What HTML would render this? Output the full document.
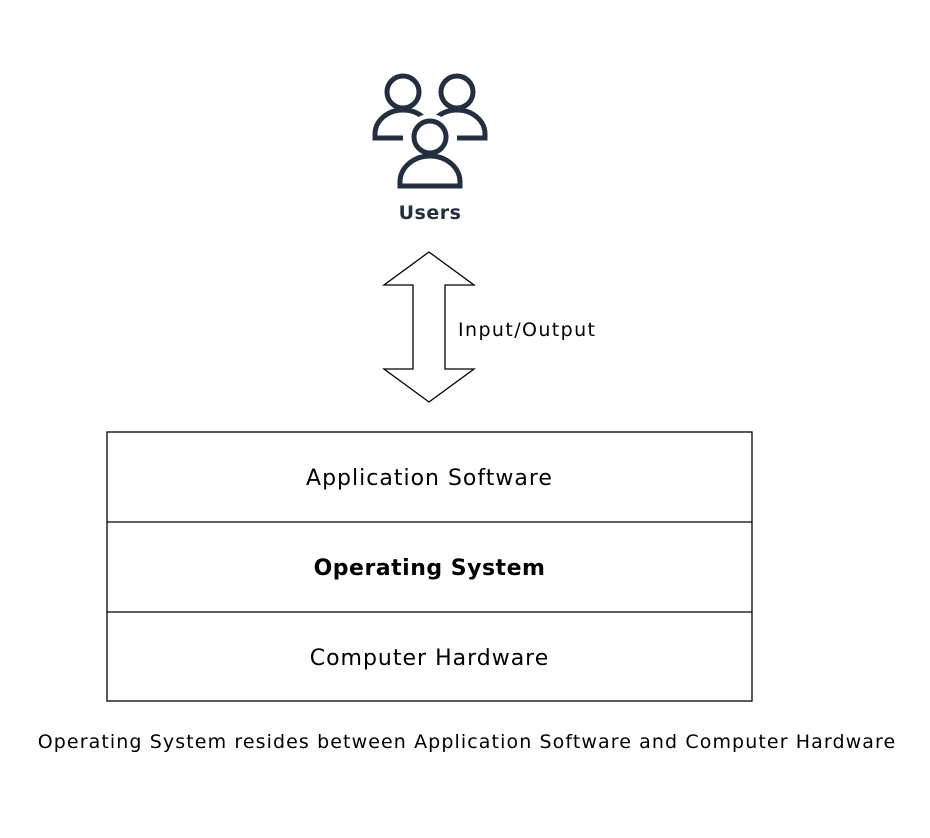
<!DOCTYPE html>
<html><head><style>
body{margin:0;width:930px;height:838px;background:#fff;position:relative;overflow:hidden;font-family:"DejaVu Sans",Verdana,sans-serif;}
.t{position:absolute;white-space:nowrap;color:#000;}
</style></head><body>
<svg width="930" height="838" style="position:absolute;left:0;top:0">
<g fill="none" stroke="#232f3e" stroke-width="5">
<path d="M403 138 H375 V134 A28 24 0 0 1 431 134"/>
<path d="M457 138 H485 V134 A28 24 0 0 0 429 134"/>
<circle cx="403" cy="92" r="16" fill="#fff"/>
<circle cx="457" cy="92" r="16" fill="#fff"/>
<circle cx="430" cy="137" r="16" fill="#fff" stroke="#fff" stroke-width="14"/>
<path d="M400 186 V182 A30 26 0 0 1 460 182 V186 Z" fill="#fff" stroke="#fff" stroke-width="14"/>
<circle cx="430" cy="137" r="16"/>
<path d="M400 186 V182 A30 26 0 0 1 460 182 V186 Z"/>
</g>
<path d="M429 252 L474 285 L445 285 L445 369 L474 369 L429 402 L384 369 L413 369 L413 285 L384 285 Z" fill="#fff" stroke="#000" stroke-width="1.3"/>
<rect x="107" y="432" width="645" height="269" fill="#fff" stroke="#000" stroke-width="1.3"/>
<line x1="107" y1="522" x2="752" y2="522" stroke="#000" stroke-width="1.3"/>
<line x1="107" y1="612" x2="752" y2="612" stroke="#000" stroke-width="1.3"/>
</svg>
<div class="t" style="left:380px;top:202px;width:100px;text-align:center;font-weight:bold;font-size:19px;color:#232f3e;letter-spacing:0.5px">Users</div>
<div class="t" style="left:458px;top:319px;font-size:19px;letter-spacing:1.4px">Input/Output</div>
<div class="t" style="left:107px;top:466px;width:645px;text-align:center;font-size:22px;letter-spacing:1px">Application Software</div>
<div class="t" style="left:107px;top:556px;width:645px;text-align:center;font-size:22px;font-weight:bold;letter-spacing:0.5px">Operating System</div>
<div class="t" style="left:107px;top:646px;width:645px;text-align:center;font-size:22px;letter-spacing:1px">Computer Hardware</div>
<div class="t" style="left:0;top:731px;width:934px;text-align:center;font-size:19px;letter-spacing:1.1px">Operating System resides between Application Software and Computer Hardware</div>
</body></html>
